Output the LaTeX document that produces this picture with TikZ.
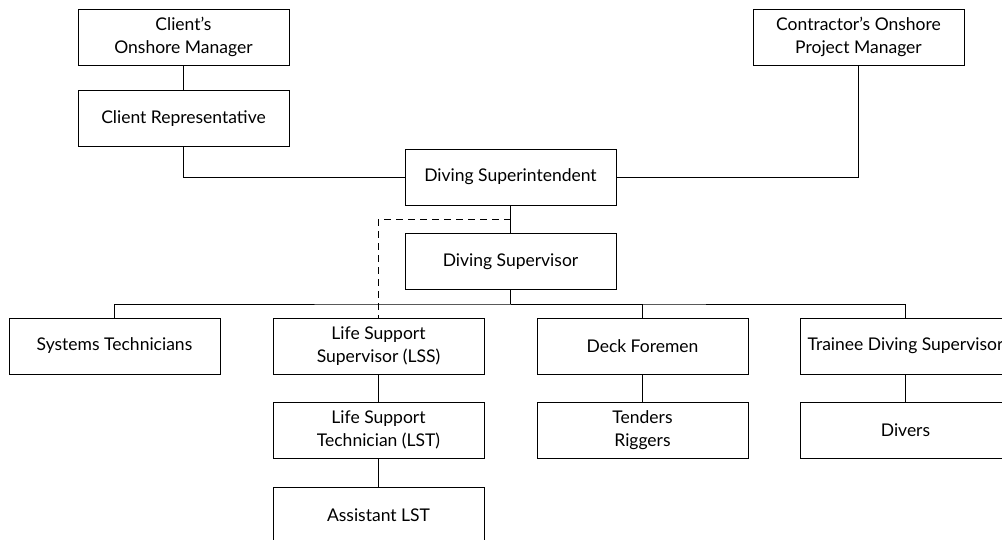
\documentclass[tikz,border=0pt]{standalone}
\usepackage{fontspec}
\setmainfont{Lato}
\begin{document}
\begin{tikzpicture}[x=1pt,y=-1pt,
  box/.style={draw,line width=1pt,minimum width=211pt,minimum height=56pt,inner sep=0pt,align=center,font=\fontsize{17.5}{23.5}\selectfont},
  conn/.style={line width=1pt},
  dconn/.style={line width=1pt,dash pattern=on 7pt off 5pt}]
\useasboundingbox (0,0) rectangle (1002,539);
\begin{scope}
\clip (0,0) rectangle (1002,539);
\node[box] (com) at (183.5,37) {Client’s\\Onshore Manager};
\node[box] (crep) at (183.5,118.5) {Client Representative};
\node[box] (cpm) at (858.5,37) {Contractor’s Onshore\\Project Manager};
\node[box] (dsi) at (510.5,177) {Diving Superintendent};
\node[box] (dsv) at (510.5,261.5) {Diving Supervisor};
\node[box] (st) at (114.5,346) {Systems Technicians};
\node[box] (lss) at (378.5,346) {Life Support\\Supervisor (LSS)};
\node[box] (lst) at (378.5,430) {Life Support\\Technician (LST)};
\node[box] (alst) at (378.5,515) {Assistant LST};
\node[box] (df) at (642.5,346) {Deck Foremen};
\node[box] (tr) at (642.5,430) {Tenders\\Riggers};
\node[box] (tds) at (905.5,346) {Trainee Diving Supervisor};
\node[box] (dv) at (905.5,430) {Divers};
\coordinate (bus) at (510.5,304);
\coordinate (dk) at (510.5,219);
\draw[conn] (com) -- (crep);
\draw[conn] (crep.south) |- (dsi.west);
\draw[conn] (cpm.south) |- (dsi.east);
\draw[conn] (dsi) -- (dsv);
\draw[conn] (dsv.south) -- (bus);
\draw[conn] (st.north) |- (bus) -| (tds.north);
\draw[conn] (bus) -| (df.north);
\draw[conn] (lss) -- (lst);
\draw[conn] (lst) -- (alst);
\draw[conn] (df) -- (tr);
\draw[conn] (tds) -- (dv);
\draw[dconn] (dk) -| (lss.north);
\end{scope}
\end{tikzpicture}
\end{document}
